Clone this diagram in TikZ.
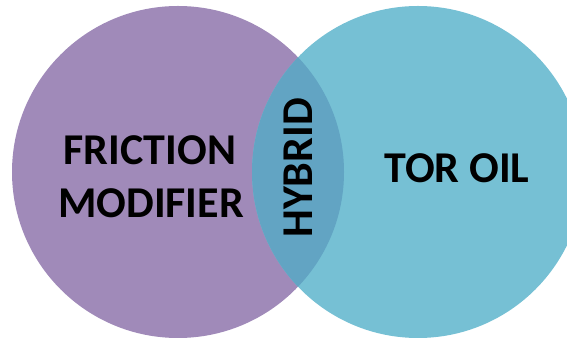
\documentclass[tikz,border=0pt]{standalone}
\usepackage{fontspec}
\setmainfont{Carlito}
\usepackage{tikz}

\definecolor{fmpurple}{HTML}{A08AB9}
\definecolor{torblue}{HTML}{76C0D4}
\definecolor{hybblue}{HTML}{62A4C3}

\tikzset{label text/.style={font=\fontsize{44}{52}\selectfont\bfseries, inner sep=0pt}}

\begin{document}
\begin{tikzpicture}[x=1pt,y=1pt]
\useasboundingbox (0,0) rectangle (567,339);
\clip (0,0) rectangle (567,339);
	\coordinate (L) at (178,167);
	\coordinate (R) at (418,167);
	\fill[fmpurple] (L) circle (166);
	\fill[torblue] (R) circle (166);
	% overlap
	\begin{scope}
		\clip (L) circle (166);
		\fill[hybblue] (R) circle (166);
	\end{scope}
	\node[label text, anchor=base] (fric) at (150,174) {FRICTION};
	\node[label text, anchor=base] (modi) at (151,121) {MODIFIER};
	\node[label text, anchor=base] (tor) at (457,156) {TOR OIL};
	\node[label text, anchor=base, rotate=90] (hyb) at (312,171) {HYBRID};
\end{tikzpicture}
\end{document}
